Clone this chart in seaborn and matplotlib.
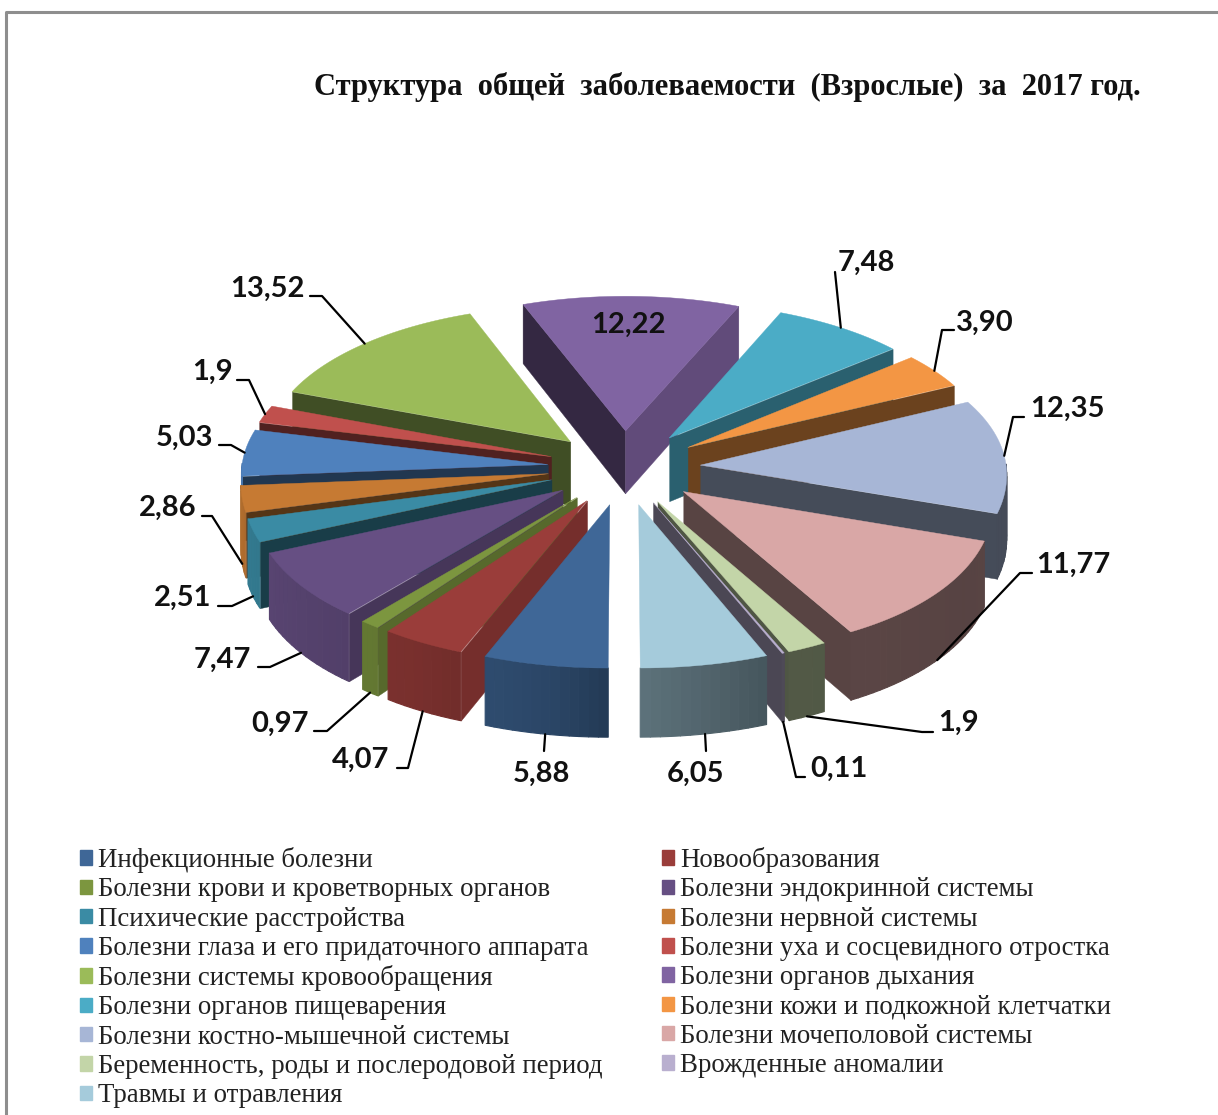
import numpy as np
import matplotlib
matplotlib.use("Agg")
import matplotlib.pyplot as plt
from matplotlib.collections import PolyCollection
from matplotlib.patches import Patch
import seaborn as sns

# ---------------- DATA ----------------
title = "Структура  общей  заболеваемости  (Взрослые)  за  2017 год."

categories = [
    "Инфекционные болезни",
    "Новообразования",
    "Болезни крови и кроветворных органов",
    "Болезни эндокринной системы",
    "Психические расстройства",
    "Болезни нервной системы",
    "Болезни глаза и его придаточного аппарата",
    "Болезни уха и сосцевидного отростка",
    "Болезни системы кровообращения",
    "Болезни органов дыхания",
    "Болезни органов пищеварения",
    "Болезни кожи и подкожной клетчатки",
    "Болезни костно-мышечной системы",
    "Болезни мочеполовой системы",
    "Беременность, роды и послеродовой период",
    "Врожденные аномалии",
    "Травмы и отравления",
]
values = [5.88, 4.07, 0.97, 7.47, 2.51, 2.86, 5.03, 1.9, 13.52, 12.22,
          7.48, 3.90, 12.35, 11.77, 1.9, 0.11, 6.05]
value_labels = ["5,88", "4,07", "0,97", "7,47", "2,51", "2,86", "5,03", "1,9", "13,52",
                "12,22", "7,48", "3,90", "12,35", "11,77", "1,9", "0,11", "6,05"]
colors = ["#3F6797", "#9A3D3A", "#7C963F", "#664F83", "#3A8BA4", "#C67A33",
          "#4F81BD", "#C0504D", "#9BBB59", "#8064A2", "#4BACC6", "#F39644",
          "#A7B6D6", "#D9A7A6", "#C3D5A8", "#B9AFCF", "#A5CBDB"]

# label text position (x, y, ha) and leader elbow points, figure pixels
label_pos = [(541, 774, "center"), (389, 760, "right"), (309, 724, "right"), (251, 660, "right"),
             (211, 598, "right"), (197, 508, "right"), (213, 438, "right"), (233, 372, "right"),
             (305, 289, "right"), (628, 325, "center"), (838, 263, "left"), (956, 323, "left"),
             (1030, 409, "left"), (1036, 565, "left"), (938, 723, "left"), (810, 769, "left"),
             (696, 774, "center")]
leader_elbow = [[(544, 751)], [(397, 768), (408, 768)], [(314, 731), (327, 731)], [(258, 667), (270, 667)],
                [(218, 606), (232, 606)], [(202, 516), (212, 516)], [(219, 445), (231, 445)], [(237, 380), (249, 380)],
                [(310, 296), (322, 296)], [], [(835, 272)], [(954, 330), (942, 330)],
                [(1024, 417), (1013, 417)], [(1032, 573), (1020, 573)], [(933, 732), (922, 732)], [(805, 777), (796, 777)],
                [(706, 751)]]

# ---------------- PIE GEOMETRY ----------------
CX, CY = 624, 467.5
RX, RY = 306, 149
EXPLODE = 0.25
PERSP_Y = 0.0645
DEPTH = 64


def project(x, y):
    s = 1 + PERSP_Y * y
    sx = 1 + 0.05 * y + 0.04 * np.maximum(y, 0) ** 2
    return CX + RX * x * sx, CY + RY * y * s, s


def wrap(a):
    return (a + 180) % 360 - 180


def radial_shade(normal):
    return np.interp(wrap(normal), [-90, -68, -50, -40, -26, 0, 90], [0.78, 0.76, 0.68, 0.56, 0.44, 0.42, 0.40])


def outer_shade(theta):
    return np.interp(wrap(theta), [-90, -60, -22, -10, 0, 10, 30, 60, 90, 120],
                     [0.42, 0.40, 0.42, 0.50, 0.56, 0.68, 0.78, 0.85, 0.90, 0.90])


sns.set_theme(style="white")
plt.rcParams["font.family"] = ["Liberation Serif", "DejaVu Serif"]
palette = sns.color_palette(colors)

fig, ax = plt.subplots(figsize=(12.18, 11.15), dpi=100)
fig.subplots_adjust(0, 0, 1, 1)
ax.set_xlim(0, 1218)
ax.set_ylim(1115, 0)
ax.axis("off")

# frame of the pasted chart, only top and left are in the crop
ax.plot([6, 6, 1218], [1115, 12, 12], color="#8e8e8e", lw=2.2, solid_capstyle="butt")

shares = np.array(values) / sum(values) * 360
ends = np.cumsum(shares)
starts = ends - shares
mids = (starts + ends) / 2


def slice_points(i):
    m = np.radians(mids[i])
    ax0, ay0 = -EXPLODE * np.sin(m), EXPLODE * np.cos(m)
    th = np.linspace(starts[i], ends[i], max(4, int(shares[i] / 1.5)))
    wx = ax0 - np.sin(np.radians(th))
    wy = ay0 + np.cos(np.radians(th))
    return (ax0, ay0), th, wx, wy


order = sorted(range(len(values)), key=lambda i: slice_points(i)[0][1] + 0.6 * np.cos(np.radians(mids[i])))

for i in order:
    col = np.array(palette[i])
    (ax0, ay0), th, wx, wy = slice_points(i)
    px0, py0, s0 = project(ax0, ay0)
    px, py, ps = project(wx, wy)
    polys, faces = [], []

    # radial walls, only the ones facing the viewer
    for j, normal in [(0, starts[i] - 90), (-1, ends[i] + 90)]:
        if np.cos(np.radians(normal)) <= 1e-6:
            continue
        polys.append([(px0, py0), (px[j], py[j]), (px[j], py[j] + DEPTH * ps[j]), (px0, py0 + DEPTH * s0)])
        faces.append(tuple(col * radial_shade(normal)))
    ax.add_collection(PolyCollection(polys, facecolors=faces, edgecolors=faces, linewidths=0.3))

    # outer wall, strips so the shading can change along the rim
    polys, faces = [], []
    for k in range(len(th) - 1):
        tm = (th[k] + th[k + 1]) / 2
        if np.cos(np.radians(tm)) < -0.02:
            continue
        polys.append([(px[k], py[k]), (px[k + 1], py[k + 1]),
                      (px[k + 1], py[k + 1] + DEPTH * ps[k + 1]), (px[k], py[k] + DEPTH * ps[k])])
        faces.append(tuple(col * outer_shade(tm)))
    ax.add_collection(PolyCollection(polys, facecolors=faces, edgecolors=faces, linewidths=0.8))

    # top face
    ax.fill(np.r_[px0, px], np.r_[py0, py], color=col, lw=0.3)

# ---------------- LABELS ----------------
for i, text in enumerate(value_labels):
    x, y, ha = label_pos[i]
    ax.text(x, y, text, ha=ha, va="center", fontsize=21, fontweight="bold",
            family=["Lato", "DejaVu Sans"], color="#111111")
    if leader_elbow[i]:
        m = np.radians(mids[i])
        wx = (EXPLODE + 1) * -np.sin(m)
        wy = (EXPLODE + 1) * np.cos(m)
        ex, ey, es = project(wx, wy)
        if wy > 0.1:
            ey += DEPTH * es
        pts = leader_elbow[i] + [(ex, ey)]
        ax.plot([p[0] for p in pts], [p[1] for p in pts], color="black", lw=1.6)

ax.text(727, 87, title, ha="center", va="center", fontsize=22, fontweight="bold", color="#111111")

# legend is filled row by row in the original
rows = list(range(0, 17, 2)) + list(range(1, 17, 2))
handles = [Patch(color=palette[i], label=categories[i]) for i in rows]
ax.legend(handles=handles, ncol=2, loc="upper left", bbox_to_anchor=(80 / 1218, 1 - 847 / 1115),
          frameon=False, fontsize=19.35, labelcolor="#222222", handlelength=0.45, handleheight=0.45,
          handletextpad=0.22, labelspacing=0.16, columnspacing=2.2, borderpad=0, borderaxespad=0)

fig.savefig("out.png", dpi=100)
